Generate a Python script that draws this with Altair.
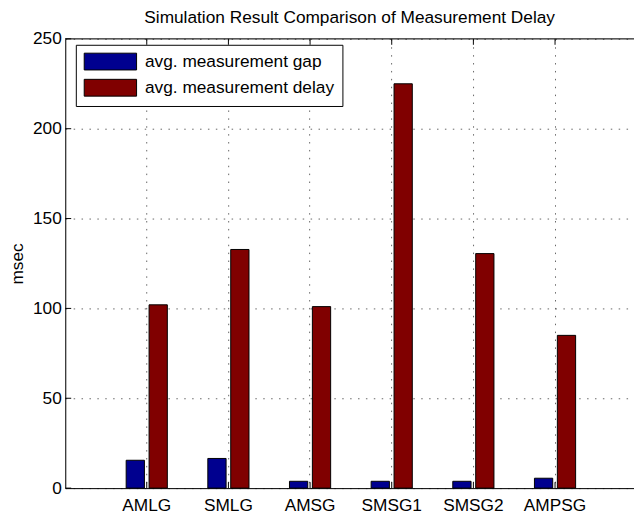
import altair as alt
import pandas as pd

categories = ["AMLG", "SMLG", "AMSG", "SMSG1", "SMSG2", "AMPSG"]
series = ["avg. measurement gap", "avg. measurement delay"]
gap_values = [15.5, 16.5, 3.8, 3.8, 3.8, 5.5]
delay_values = [102, 132.8, 101, 225, 130.5, 85]
colors = ["#00008F", "#800000"]
y_ticks = [0, 50, 100, 150, 200, 250]
title_text = "Simulation Result Comparison of Measurement Delay"

rows = []
for c, g, d in zip(categories, gap_values, delay_values):
    rows.append({"group": c, "series": series[0], "msec": g})
    rows.append({"group": c, "series": series[1], "msec": d})
df = pd.DataFrame(rows)
ytick_df = pd.DataFrame({"v": y_ticks})
xtick_df = pd.DataFrame({"group": categories})

FONT = "Liberation Sans"
FS = 17.5
TICK = 6
H = 455
GRID = dict(grid=True, gridDash=[1.5, 6.5], gridColor="#666666", gridWidth=1)
x_scale = alt.Scale(paddingInner=0, paddingOuter=0.4825, align=0.516)
y_scale = alt.Scale(domain=[0, 250], nice=False, zero=True)

bars = alt.Chart(df).mark_bar(stroke="black", strokeWidth=1, strokeOpacity=1).encode(
    x=alt.X(
        "group:N", sort=categories, title=None, scale=x_scale,
        axis=alt.Axis(labelAngle=0, ticks=False, labelPadding=9, bandPosition=0.5,
                      domainColor="black", domainWidth=1, labelFontSize=FS,
                      labelFont=FONT, labelColor="black", **GRID),
    ),
    xOffset=alt.XOffset("series:N", sort=series,
                        scale=alt.Scale(paddingInner=0.2026, paddingOuter=0.8836)),
    y=alt.Y(
        "msec:Q", title="msec", scale=y_scale,
        axis=alt.Axis(values=y_ticks, ticks=False, labelPadding=4, domainColor="black",
                      domainWidth=1, labelFontSize=FS, labelFont=FONT, labelColor="black",
                      titleFont=FONT, titleFontSize=FS, titleFontWeight="normal",
                      titleColor="black", titleX=-48, titleY=H / 2, titleAngle=270,
                      titleBaseline="middle", titleAlign="center", **GRID),
    ),
    color=alt.Color(
        "series:N", sort=series,
        scale=alt.Scale(domain=series, range=colors),
        legend=alt.Legend(
            title=None, orient="none", legendX=10.7, legendY=6,
            strokeColor="black", fillColor="white", padding=8, cornerRadius=0,
            symbolType="M-3.12,-1H3.12V1H-3.12Z", symbolSize=289,
            symbolOffset=18, labelOffset=26, labelLimit=400,
            symbolStrokeColor="black", symbolStrokeWidth=1, symbolOpacity=1,
            labelFontSize=FS, labelFont=FONT, labelColor="black",
            rowPadding=4.5,
        ),
    ),
)

top_border = alt.Chart(pd.DataFrame({"v": [y_ticks[-1]]})).mark_rule(
    color="black", strokeWidth=1
).encode(y=alt.Y("v:Q", scale=y_scale))

y_inner_ticks = alt.Chart(ytick_df).mark_rule(color="black", strokeWidth=1).encode(
    y=alt.Y("v:Q", scale=y_scale), x=alt.value(0), x2=alt.value(TICK)
)
x_bottom_ticks = alt.Chart(xtick_df).mark_rule(color="black", strokeWidth=1).encode(
    x=alt.X("group:N", sort=categories, scale=x_scale), y=alt.value(H), y2=alt.value(H - TICK)
)
x_top_ticks = alt.Chart(xtick_df).mark_rule(color="black", strokeWidth=1).encode(
    x=alt.X("group:N", sort=categories, scale=x_scale), y=alt.value(0), y2=alt.value(TICK)
)

chart = alt.layer(bars, top_border, y_inner_ticks, x_bottom_ticks, x_top_ticks).properties(
    width=576, height=H,
    title=alt.TitleParams(title_text, font=FONT, fontSize=FS, fontWeight="normal",
                          color="black", anchor="middle", offset=4),
    autosize=alt.AutoSizeParams(type="none"),
    padding={"left": 58, "top": 28, "right": 0, "bottom": 26},
).configure_view(stroke=None).configure(background="white")

chart.save("out.html", embed_options={"renderer": "svg", "actions": False})
